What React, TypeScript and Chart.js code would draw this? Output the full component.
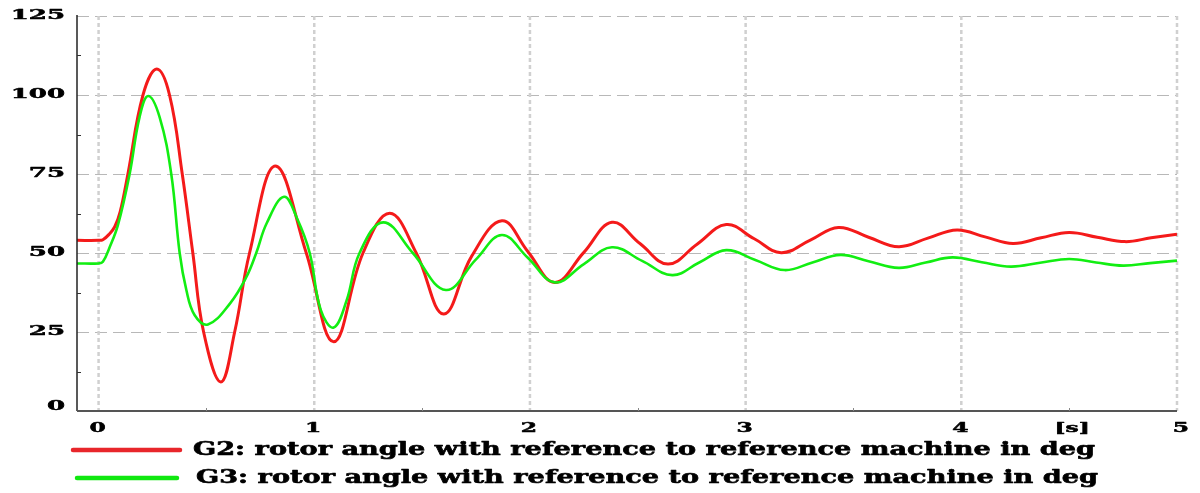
import React, { useEffect, useRef } from "react";
import { Chart, registerables } from "chart.js";

Chart.register(...registerables);

// ---- data ----
const tG2 = [-0.1, 0, 0.02, 0.05, 0.075, 0.1, 0.136, 0.206, 0.27, 0.329, 0.388, 0.437, 0.487, 0.567, 0.631, 0.7, 0.82, 0.963, 1.09, 1.226, 1.35, 1.473, 1.6, 1.73, 1.87, 1.99, 2.115, 2.25, 2.38, 2.51, 2.64, 2.775, 2.91, 3.04, 3.165, 3.3, 3.43, 3.57, 3.71, 3.845, 3.98, 4.11, 4.24, 4.37, 4.5, 4.63, 4.76, 4.88, 5.0];
const vG2 = [54, 54, 54.2, 56, 58.3, 63, 75, 100, 108.2, 100, 75, 50, 25, 9.2, 25, 50, 77.5, 50, 21.9, 50, 62.6, 50, 30.7, 49, 60.2, 50.5, 40.7, 50.2, 59.7, 53, 46.5, 52.8, 59, 54.5, 50.1, 54.1, 58.1, 55, 52, 54.7, 57.3, 55.1, 53, 54.8, 56.5, 55, 53.6, 54.8, 55.9];

const tG3 = [-0.1, 0, 0.02, 0.05, 0.09, 0.144, 0.19, 0.23, 0.283, 0.337, 0.376, 0.407, 0.445, 0.507, 0.609, 0.686, 0.731, 0.78, 0.86, 0.92, 0.979, 1.03, 1.09, 1.15, 1.21, 1.32, 1.457, 1.61, 1.75, 1.87, 1.99, 2.115, 2.25, 2.38, 2.52, 2.66, 2.785, 2.91, 3.045, 3.18, 3.31, 3.44, 3.57, 3.71, 3.835, 3.96, 4.095, 4.23, 4.365, 4.5, 4.625, 4.75, 4.875, 5.0];
const vG3 = [46.7, 46.7, 47.2, 51.6, 58.9, 75, 93, 99.7, 93, 75, 50, 38.3, 30.4, 27.4, 34, 42.5, 50, 59.5, 67.8, 61, 50, 32, 26.4, 35, 50, 59.7, 50, 38.3, 48, 55.7, 48.5, 40.7, 46.5, 51.8, 47.5, 43, 47, 50.9, 47.8, 44.6, 47, 49.4, 47.4, 45.3, 47, 48.6, 47.1, 45.7, 46.9, 48.1, 47, 46, 46.8, 47.6];

const xTickValues = [0, 1, 2, 3, 4, 5];
const xTickLabels = ["0", "1", "2", "3", "4", "5"];
const xMinorValues = [0.5, 1.5, 2.5, 3.5, 4.5];
const xUnitValue = 4.5;
const xUnitLabel = "[s]";
const yTickValues = [0, 25, 50, 75, 100, 125];
const yTickLabels = ["0", "25", "50", "75", "100", "125"];
const yMinorValues = [12.5, 37.5, 62.5, 87.5, 112.5];

const seriesLabels = [
  "G2: rotor angle with reference to reference machine in deg",
  "G3: rotor angle with reference to reference machine in deg",
];
const seriesColors = ["#f41a1a", "#12ee12"];
const legendColors = ["#e8262b", "#10e810"];

const TICK_FONT = 'bold 13px "DejaVu Serif"';
const LEGEND_FONT = 'bold 18px "DejaVu Serif"';

function stretchedText(
  ctx: CanvasRenderingContext2D,
  text: string,
  x: number,
  y: number,
  sx: number,
  align: "left" | "center" | "right",
  weight = 0.5
) {
  const w = ctx.measureText(text).width * sx;
  const x0 = align === "center" ? x - w / 2 : align === "right" ? x - w : x;
  ctx.save();
  ctx.translate(x0, y);
  ctx.scale(sx, 1);
  ctx.textAlign = "left";
  ctx.textBaseline = "middle";
  ctx.fillText(text, 0, 0);
  if (weight > 0) {
    ctx.lineWidth = weight;
    ctx.strokeStyle = ctx.fillStyle as string;
    ctx.lineJoin = "round";
    ctx.strokeText(text, 0, 0);
  }
  ctx.restore();
}

const decor = {
  id: "decor",
  beforeDatasetsDraw(chart: any) {
    const { ctx, chartArea, scales } = chart;
    const { left, right, top, bottom } = chartArea;
    const x = scales.x;
    const y = scales.y;
    ctx.save();
    ctx.strokeStyle = "#b8b8b8";
    ctx.lineWidth = 1;
    ctx.setLineDash([12, 6]);
    yTickValues.forEach((v) => {
      if (v === 0) return;
      const py = Math.round(y.getPixelForValue(v)) + 0.5;
      ctx.beginPath();
      ctx.moveTo(left, py);
      ctx.lineTo(right, py);
      ctx.stroke();
    });
    ctx.strokeStyle = "#d0d0d0";
    ctx.lineWidth = 2.5;
    ctx.setLineDash([4, 3]);
    xTickValues.forEach((v) => {
      const px = x.getPixelForValue(v);
      ctx.beginPath();
      ctx.moveTo(px, top);
      ctx.lineTo(px, bottom);
      ctx.stroke();
    });
    ctx.restore();
  },
  afterDatasetsDraw(chart: any) {
    const { ctx, chartArea, scales } = chart;
    const { left, right, top, bottom } = chartArea;
    const x = scales.x;
    const y = scales.y;
    ctx.save();
    ctx.setLineDash([]);
    ctx.strokeStyle = "#222";
    ctx.lineWidth = 1.5;
    ctx.beginPath();
    ctx.moveTo(left, top - 1);
    ctx.lineTo(left, bottom);
    ctx.stroke();
    ctx.strokeStyle = "#555";
    ctx.lineWidth = 2;
    ctx.beginPath();
    ctx.moveTo(left, bottom);
    ctx.lineTo(right, bottom);
    ctx.stroke();
    ctx.lineWidth = 1;
    ctx.strokeStyle = "#333";
    yMinorValues.forEach((v) => {
      const py = Math.round(y.getPixelForValue(v)) + 0.5;
      ctx.beginPath();
      ctx.moveTo(left, py);
      ctx.lineTo(left + 4, py);
      ctx.stroke();
    });
    ctx.strokeStyle = "#888";
    xMinorValues.forEach((v) => {
      const px = Math.round(x.getPixelForValue(v)) + 0.5;
      ctx.beginPath();
      ctx.moveTo(px, bottom);
      ctx.lineTo(px, bottom - 3);
      ctx.stroke();
    });
    ctx.fillStyle = "#000";
    ctx.font = TICK_FONT;
    yTickValues.forEach((v, i) => {
      let py = y.getPixelForValue(v);
      if (v === 0) py -= 4;
      stretchedText(ctx, yTickLabels[i], 65, py, 2.0, "right");
    });
    xTickValues.forEach((v, i) => {
      let px = x.getPixelForValue(v);
      if (i === xTickValues.length - 1) px += 5;
      stretchedText(ctx, xTickLabels[i], px - 1, bottom + 18, 1.8, "center");
    });
    stretchedText(ctx, xUnitLabel, x.getPixelForValue(xUnitValue) + 3, bottom + 18, 1.8, "center");
    const rows = [
      { y: 450, x1: 73, x2: 180, tx: 193 },
      { y: 478, x1: 77, x2: 177, tx: 196 },
    ];
    ctx.font = LEGEND_FONT;
    rows.forEach((r, i) => {
      ctx.strokeStyle = legendColors[i];
      ctx.lineWidth = 4.5;
      ctx.lineCap = "round";
      ctx.beginPath();
      ctx.moveTo(r.x1, r.y);
      ctx.lineTo(r.x2, r.y);
      ctx.stroke();
      ctx.fillStyle = "#000";
      const w = ctx.measureText(seriesLabels[i]).width;
      stretchedText(ctx, seriesLabels[i], r.tx, r.y, 902 / w, "left", 0.6);
    });
    ctx.restore();
  },
};

export default function App() {
  const ref = useRef<HTMLCanvasElement | null>(null);
  useEffect(() => {
    document.body.style.margin = "0";
    document.body.style.overflow = "hidden";
    const canvas = ref.current;
    if (!canvas) return;
    const chart = new Chart(canvas, {
      type: "line",
      data: {
        datasets: [
          {
            label: seriesLabels[0],
            data: tG2.map((t, i) => ({ x: t, y: vG2[i] })),
            borderColor: seriesColors[0],
            borderWidth: 3,
            pointRadius: 0,
            tension: 0.4,
            fill: false,
            order: 2,
          },
          {
            label: seriesLabels[1],
            data: tG3.map((t, i) => ({ x: t, y: vG3[i] })),
            borderColor: seriesColors[1],
            borderWidth: 2.6,
            pointRadius: 0,
            tension: 0.4,
            fill: false,
            order: 1,
          },
        ],
      },
      options: {
        animation: false,
        responsive: true,
        maintainAspectRatio: false,
        layout: { padding: { left: 77, right: 23, top: 16, bottom: 82 } },
        scales: {
          x: { type: "linear", min: -0.1, max: 5, display: false },
          y: { type: "linear", min: 0, max: 125, display: false },
        },
        plugins: {
          legend: { display: false },
          tooltip: { enabled: false },
        },
      },
      plugins: [decor],
    });
    return () => chart.destroy();
  }, []);
  return (
    <div style={{ position: "relative", width: 1200, height: 493, background: "#fff" }}>
      <canvas ref={ref} />
    </div>
  );
}
